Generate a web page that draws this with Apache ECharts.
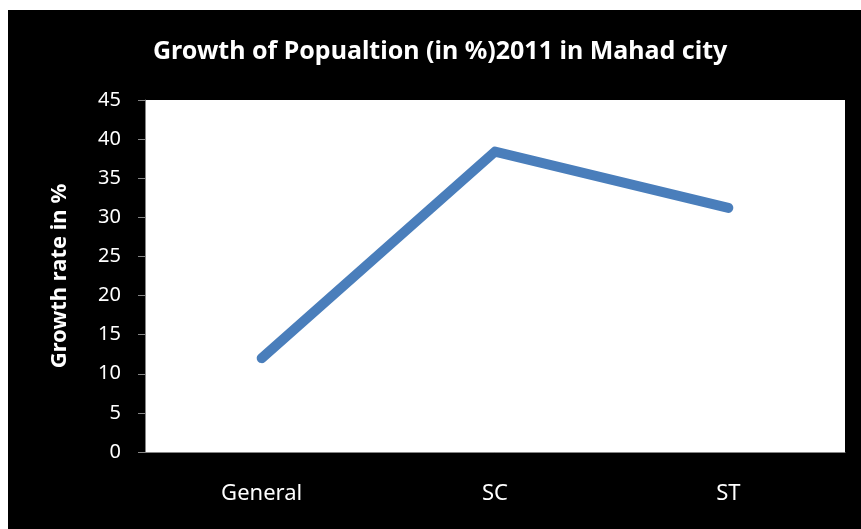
<!DOCTYPE html>
<html>
<head>
<meta charset="utf-8">
<script src="https://cdn.jsdelivr.net/npm/echarts@6/dist/echarts.min.js"></script>
<style>
  html, body { margin: 0; padding: 0; background: #fff; }
  #main { position: absolute; left: 8px; top: 10px; width: 853px; height: 519px; }
</style>
</head>
<body>
<div id="main"></div>
<script>
var categories = ['General', 'SC', 'ST'];
var growth = [12.0, 38.4, 31.2];
var yTicks = { min: 0, max: 45, interval: 5 };

var myChart = echarts.init(document.getElementById('main'));

var font = '"Noto Sans", "Open Sans", sans-serif';

var option = {
    backgroundColor: '#000',
    animation: false,
    title: {
        text: 'Growth of Popualtion (in %)2011 in Mahad city',
        left: 140,
        top: 24,
        textStyle: { color: '#fff', fontSize: 25, fontWeight: 'bold', fontFamily: font }
    },
    grid: { left: 137, top: 90, right: 16, bottom: 77, backgroundColor: '#fff', show: true, borderWidth: 0 },
    xAxis: {
        type: 'category',
        data: categories,
        boundaryGap: true,
        axisLine: { lineStyle: { color: '#868686', width: 1 } },
        axisTick: { show: false },
        axisLabel: { color: '#fff', fontSize: 22, margin: 31, fontFamily: font }
    },
    yAxis: {
        type: 'value',
        min: yTicks.min,
        max: yTicks.max,
        interval: yTicks.interval,
        name: 'Growth rate in %',
        nameLocation: 'middle',
        nameGap: 74,
        nameRotate: 90,
        nameTextStyle: { color: '#fff', fontSize: 22, fontWeight: 'bold', fontFamily: font },
        axisLine: { show: true, lineStyle: { color: '#868686', width: 1 } },
        axisTick: { show: true, length: 7, lineStyle: { color: '#868686' } },
        splitLine: { show: false },
        axisLabel: { color: '#fff', fontSize: 20, margin: 24, fontFamily: font }
    },
    series: [{
        type: 'line',
        data: growth,
        showSymbol: false,
        symbol: 'none',
        lineStyle: { color: '#4a7ebb', width: 10, cap: 'round', join: 'round' }
    }]
};

myChart.setOption(option);
</script>
</body>
</html>
